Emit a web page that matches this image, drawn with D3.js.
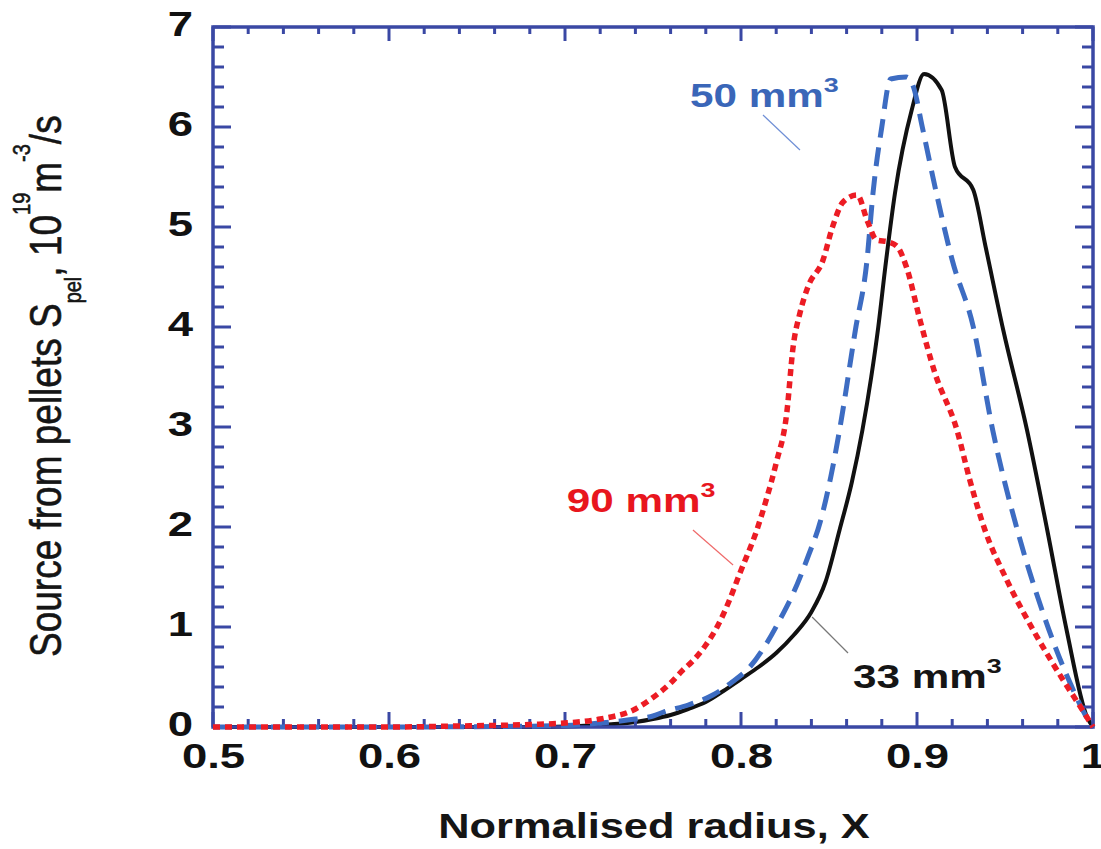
<!DOCTYPE html>
<html><head><meta charset="utf-8">
<script src="https://cdn.jsdelivr.net/npm/d3@7"></script>
<style>body{margin:0;background:#fff}svg{display:block}</style>
</head><body><svg id="c" width="1101" height="849"></svg>
<script>
// ---- data ----
const xTickValues = [0.5, 0.6, 0.7, 0.8, 0.9, 1.0];
const xTickLabels = ["0.5", "0.6", "0.7", "0.8", "0.9", "1"];
const yTickValues = [0, 1, 2, 3, 4, 5, 6, 7];
const yTickLabels = ["0", "1", "2", "3", "4", "5", "6", "7"];

const seriesNames = ["33 mm", "50 mm", "90 mm"];

const x33 = [0.5, 0.6, 0.68, 0.70, 0.72, 0.74, 0.75, 0.76, 0.77, 0.78, 0.79, 0.80, 0.81, 0.82, 0.83, 0.84, 0.848, 0.856, 0.863, 0.869, 0.874, 0.878, 0.882, 0.8875, 0.897, 0.904, 0.914, 0.9216, 0.932, 0.939, 0.949, 0.9625, 0.974, 0.985, 0.9966, 1.0];
const y33 = [0, 0, 0, 0.005, 0.02, 0.05, 0.08, 0.12, 0.18, 0.25, 0.36, 0.48, 0.6, 0.74, 0.92, 1.15, 1.45, 1.97, 2.45, 2.97, 3.5, 4.0, 4.6, 5.34, 6.17, 6.53, 6.37, 5.6, 5.37, 4.8, 3.97, 2.97, 1.97, 0.97, 0.1, 0];

const x50 = [0.5, 0.6, 0.66, 0.70, 0.72, 0.74, 0.75, 0.756, 0.77, 0.784, 0.795, 0.805, 0.815, 0.822, 0.83, 0.838, 0.845, 0.851, 0.856, 0.865, 0.8716, 0.875, 0.880, 0.885, 0.894, 0.898, 0.903, 0.911, 0.920, 0.932, 0.943, 0.957, 0.9716, 0.987, 0.998, 1.0];
const y50 = [0, 0, 0.005, 0.015, 0.04, 0.08, 0.11, 0.15, 0.22, 0.32, 0.45, 0.6, 0.85, 1.07, 1.35, 1.7, 2.05, 2.5, 2.97, 3.97, 4.67, 5.34, 6.0, 6.48, 6.5, 6.4, 6.0, 5.34, 4.67, 4.0, 2.97, 1.97, 1.14, 0.44, 0.05, 0];

const x90 = [0.5, 0.6, 0.64, 0.68, 0.70, 0.72, 0.74, 0.748, 0.76, 0.767, 0.772, 0.78, 0.787, 0.793, 0.7994, 0.809, 0.8148, 0.820, 0.826, 0.8296, 0.8335, 0.838, 0.8466, 0.852, 0.858, 0.866, 0.872, 0.877, 0.884, 0.889, 0.894, 0.9017, 0.91, 0.9227, 0.930, 0.9386, 0.951, 0.966, 0.983, 0.994, 1.0];
const y90 = [0, 0, 0.01, 0.025, 0.04, 0.08, 0.18, 0.27, 0.44, 0.57, 0.65, 0.82, 1.02, 1.25, 1.54, 1.97, 2.3, 2.64, 3.14, 3.8, 4.14, 4.4, 4.67, 5.0, 5.25, 5.32, 5.05, 4.87, 4.85, 4.8, 4.6, 4.07, 3.55, 2.97, 2.47, 1.97, 1.47, 0.97, 0.47, 0.17, 0];

// annotation anchors in data units
const labelX = [0.8636, 0.771, 0.701];
const labelY = [0.39, 6.2, 2.15];
const leaderX1 = [0.8608, 0.8125, 0.7727];
const leaderY1 = [0.74, 6.12, 1.97];
const leaderX2 = [0.8404, 0.8335, 0.7955];
const leaderY2 = [1.10, 5.77, 1.62];

// ---- drawing ----
const svg = d3.select("#c");
svg.append("rect").attr("width", 1101).attr("height", 849).attr("fill", "#fff");

const x = d3.scaleLinear().domain([0.5, 1.0]).range([213, 1093]);
const y = d3.scaleLinear().domain([0, 7]).range([727, 27]);

const axisColor = "#3a48a4";
const FONT = "'Liberation Sans', Arial, Helvetica, sans-serif";
const colors = ["#111111", "#3d6cc2", "#ec1c24"];
const widths = [4, 5, 5.5];
const dashes = [null, "19,10", "7,5"];
const xs = [x33, x50, x90], ys = [y33, y50, y90];

const line = d3.line().x(d => x(d[0])).y(d => y(d[1])).curve(d3.curveMonotoneX);

function drawSeries(i) {
  const pts = xs[i].map((v, k) => [v, ys[i][k]]);
  svg.append("path").datum(pts).attr("d", line)
    .attr("fill", "none").attr("stroke", colors[i]).attr("stroke-width", widths[i])
    .attr("stroke-linejoin", "round")
    .attr("stroke-dasharray", dashes[i]);
}

drawSeries(0);

// tick values
const xMinor = d3.range(0.52, 0.999, 0.02).filter(v => Math.abs(v * 10 - Math.round(v * 10)) > 1e-6);
const yMinor = d3.range(0.2, 6.99, 0.2).filter(v => Math.abs(v - Math.round(v)) > 1e-6);

// labels via d3 axes (no tick lines)
const gb = svg.append("g").attr("transform", "translate(0,727)")
  .call(d3.axisBottom(x).tickValues(xTickValues).tickFormat((d, i) => xTickLabels[i]).tickSize(0).tickPadding(16));
gb.select(".domain").remove();
gb.selectAll(".tick line").remove();
gb.selectAll(".tick text").attr("fill", "#111").attr("font-family", FONT).attr("font-weight", "bold")
  .attr("font-size", 35).attr("transform", "scale(1.3,1)");

const gl = svg.append("g").attr("transform", "translate(213,0)")
  .call(d3.axisLeft(y).tickValues(yTickValues).tickFormat((d, i) => yTickLabels[i]).tickSize(0).tickPadding(20));
gl.select(".domain").remove();
gl.selectAll(".tick line").remove();
gl.selectAll(".tick text").attr("fill", "#111").attr("font-family", FONT).attr("font-weight", "bold")
  .attr("font-size", 35).attr("x", -20 / 1.3).attr("dy", "0.25em").attr("transform", "scale(1.3,1)");

// tick marks drawn explicitly from the scales
const tg = svg.append("g").attr("stroke", axisColor).attr("stroke-width", 3);
function vTicks(vals, y0, len) {
  tg.selectAll(null).data(vals).enter().append("line")
    .attr("x1", d => x(d)).attr("x2", d => x(d)).attr("y1", y0).attr("y2", y0 + len);
}
function hTicks(vals, x0, len) {
  tg.selectAll(null).data(vals).enter().append("line")
    .attr("y1", d => y(d)).attr("y2", d => y(d)).attr("x1", x0).attr("x2", x0 + len);
}
vTicks(xTickValues, y(0), -15);
vTicks(xMinor, y(0), -8);
vTicks(xTickValues, y(7), 14);
vTicks(xMinor, y(7), 7);
hTicks(yTickValues, x(0.5), 18);
hTicks(yMinor, x(0.5), 11);
hTicks(yTickValues, x(1), -18);
hTicks(yMinor, x(1), -11);

// frame
svg.append("rect").attr("x", x(0.5)).attr("y", y(7)).attr("width", x(1) - x(0.5)).attr("height", y(0) - y(7))
  .attr("fill", "none").attr("stroke", axisColor).attr("stroke-width", 3.5);

drawSeries(1);
drawSeries(2);

// leaders & labels
const leaderColors = ["#777", "#6f8fd6", "#ef6a6a"];
const labelColors = ["#151515", "#3a66b8", "#e8161e"];
for (let i = 0; i < 3; i++) {
  svg.append("line").attr("x1", x(leaderX1[i])).attr("y1", y(leaderY1[i]))
    .attr("x2", x(leaderX2[i])).attr("y2", y(leaderY2[i]))
    .attr("stroke", leaderColors[i]).attr("stroke-width", 1.2);
  const t = svg.append("g").attr("transform", `translate(${x(labelX[i])},${y(labelY[i])}) scale(1.28,1)`)
    .append("text").attr("font-family", FONT).attr("font-weight", "bold").attr("font-size", 33)
    .attr("fill", labelColors[i]);
  t.append("tspan").text(seriesNames[i]);
  t.append("tspan").attr("font-size", 21).attr("dy", -15).text("3");
}

// x axis title
svg.append("g").attr("transform", "translate(654,838) scale(1.24,1)")
  .append("text").attr("text-anchor", "middle").attr("font-family", FONT).attr("font-weight", "bold")
  .attr("font-size", 35).attr("fill", "#151515").text("Normalised radius, X");

// y axis title
const yt = svg.append("g").attr("transform", "translate(61,657) scale(1.2,1) rotate(-90)")
  .append("text").attr("font-family", FONT).attr("font-size", 37).attr("fill", "#151515")
  .attr("stroke", "#151515").attr("stroke-width", 0.5);
yt.append("tspan").text("Source from pellets S");
yt.append("tspan").attr("font-size", 20).attr("dy", 17).text("pel");
yt.append("tspan").attr("dy", -17).text(", 10");
yt.append("tspan").attr("font-size", 20).attr("dy", -26).text("19");
yt.append("tspan").attr("dy", 26).text("m");
yt.append("tspan").attr("font-size", 20).attr("dy", -26).text("-3");
yt.append("tspan").attr("dy", 26).text("/s");
</script>
</body></html>
